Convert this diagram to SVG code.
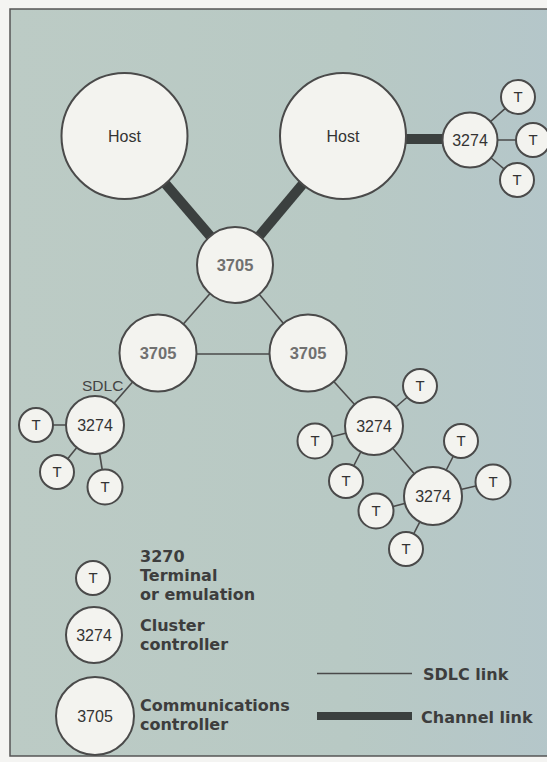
<svg xmlns="http://www.w3.org/2000/svg" width="547" height="762" viewBox="0 0 547 762">
<defs>
<linearGradient id="bg" x1="0" y1="0" x2="1" y2="0">
<stop offset="0" stop-color="#bccbc5"/>
<stop offset="0.6" stop-color="#b8c9c4"/>
<stop offset="1" stop-color="#b4c6ca"/>
</linearGradient>
<style>
.node{fill:#f3f3ef;stroke:#4a4a4a;stroke-width:2}
.sdlc{stroke:#4a4a4a;stroke-width:1.6;fill:none}
.chan{stroke:#3b403f;stroke-width:10;fill:none}
.lbl{font-family:"Liberation Sans",Arial,sans-serif;font-size:16px;fill:#333;text-anchor:middle}
.t{font-family:"Liberation Sans",Arial,sans-serif;font-size:15px;fill:#333;text-anchor:middle}
.cc{font-family:"Liberation Sans",Arial,sans-serif;font-size:16.5px;font-weight:bold;fill:#707070;text-anchor:middle}
.leg{font-family:"DejaVu Sans","Liberation Sans",sans-serif;font-size:16px;font-weight:bold;fill:#3d3d3d}
.sd{font-family:"Liberation Sans",Arial,sans-serif;font-size:15.5px;fill:#444}
</style>
</defs>
<rect x="0" y="0" width="547" height="762" fill="#f4f4f2"/>
<rect x="10" y="9" width="560" height="747" fill="url(#bg)" stroke="#555" stroke-width="1.5"/>

<g id="connectors">
<line class="chan" x1="124.5" y1="136" x2="235" y2="265"/>
<line class="chan" x1="343" y1="136" x2="235" y2="265"/>
<line class="chan" x1="343" y1="139" x2="470" y2="139"/>
<line class="sdlc" x1="470" y1="140" x2="518" y2="97"/>
<line class="sdlc" x1="470" y1="140" x2="533" y2="140"/>
<line class="sdlc" x1="470" y1="140" x2="517" y2="180"/>
<line class="sdlc" x1="235" y1="265" x2="158" y2="353"/>
<line class="sdlc" x1="235" y1="265" x2="308" y2="353"/>
<line class="sdlc" x1="158" y1="354" x2="308" y2="354"/>
<line class="sdlc" x1="158" y1="353" x2="95" y2="425"/>
<line class="sdlc" x1="95" y1="425" x2="36" y2="425"/>
<line class="sdlc" x1="95" y1="425" x2="57" y2="472"/>
<line class="sdlc" x1="95" y1="425" x2="105" y2="487"/>
<line class="sdlc" x1="308" y1="353" x2="374" y2="426"/>
<line class="sdlc" x1="374" y1="426" x2="420" y2="386"/>
<line class="sdlc" x1="374" y1="426" x2="315" y2="441"/>
<line class="sdlc" x1="374" y1="426" x2="346" y2="481"/>
<line class="sdlc" x1="374" y1="426" x2="433" y2="496"/>
<line class="sdlc" x1="433" y1="496" x2="461" y2="441"/>
<line class="sdlc" x1="433" y1="496" x2="493" y2="482"/>
<line class="sdlc" x1="433" y1="496" x2="376" y2="511"/>
<line class="sdlc" x1="433" y1="496" x2="406" y2="549"/>
</g>

<g id="host-left"><circle class="node" cx="124.5" cy="136" r="63"/><text class="lbl" x="124.5" y="141.5">Host</text></g>
<g id="host-right"><circle class="node" cx="343" cy="136" r="63"/><text class="lbl" x="343" y="141.5">Host</text></g>

<g id="cc-3274-top"><circle class="node" cx="470" cy="140" r="27.5"/><text class="lbl" x="470" y="145.5">3274</text></g>
<g id="t-top-1"><circle class="node" cx="518" cy="97" r="17"/><text class="t" x="518" y="102.4">T</text></g>
<g id="t-top-2"><circle class="node" cx="533" cy="140" r="17"/><text class="t" x="533" y="145.4">T</text></g>
<g id="t-top-3"><circle class="node" cx="517" cy="180" r="17"/><text class="t" x="517" y="185.4">T</text></g>

<g id="fep-top"><circle class="node" cx="235" cy="265" r="38"/><text class="cc" x="235" y="271">3705</text></g>
<g id="fep-left"><circle class="node" cx="158" cy="353" r="38.5"/><text class="cc" x="158" y="359">3705</text></g>
<g id="fep-right"><circle class="node" cx="308" cy="353" r="38.5"/><text class="cc" x="308" y="359">3705</text></g>

<g id="sdlc-label"><text class="sd" x="82" y="391">SDLC</text></g>

<g id="cc-3274-left"><circle class="node" cx="95" cy="425" r="29"/><text class="lbl" x="95" y="430.5">3274</text></g>
<g id="t-left-1"><circle class="node" cx="36" cy="425" r="17"/><text class="t" x="36" y="430.4">T</text></g>
<g id="t-left-2"><circle class="node" cx="57" cy="472" r="17"/><text class="t" x="57" y="477.4">T</text></g>
<g id="t-left-3"><circle class="node" cx="105" cy="487" r="17.5"/><text class="t" x="105" y="492.4">T</text></g>

<g id="cc-3274-r1"><circle class="node" cx="374" cy="426" r="29"/><text class="lbl" x="374" y="431.5">3274</text></g>
<g id="t-r1-1"><circle class="node" cx="420" cy="386" r="17"/><text class="t" x="420" y="391.4">T</text></g>
<g id="t-r1-2"><circle class="node" cx="315" cy="441" r="17.5"/><text class="t" x="315" y="446.4">T</text></g>
<g id="t-r1-3"><circle class="node" cx="346" cy="481" r="17"/><text class="t" x="346" y="486.4">T</text></g>

<g id="cc-3274-r2"><circle class="node" cx="433" cy="496" r="29"/><text class="lbl" x="433" y="501.5">3274</text></g>
<g id="t-r2-1"><circle class="node" cx="461" cy="441" r="17"/><text class="t" x="461" y="446.4">T</text></g>
<g id="t-r2-2"><circle class="node" cx="493" cy="482" r="17.5"/><text class="t" x="493" y="487.4">T</text></g>
<g id="t-r2-3"><circle class="node" cx="376" cy="511" r="17.5"/><text class="t" x="376" y="516.4">T</text></g>
<g id="t-r2-4"><circle class="node" cx="406" cy="549" r="17"/><text class="t" x="406" y="554.4">T</text></g>

<g id="legend-terminal">
<circle class="node" cx="93" cy="578" r="17"/><text class="t" x="93" y="583.4">T</text>
<text class="leg" x="140" y="562">3270</text>
<text class="leg" x="140" y="581">Terminal</text>
<text class="leg" x="140" y="600">or emulation</text>
</g>
<g id="legend-cluster">
<circle class="node" cx="94" cy="635" r="28"/><text class="lbl" x="94" y="640.5">3274</text>
<text class="leg" x="140" y="631">Cluster</text>
<text class="leg" x="140" y="650">controller</text>
</g>
<g id="legend-comm">
<circle class="node" cx="95" cy="716" r="39"/><text class="lbl" x="95" y="721.5">3705</text>
<text class="leg" x="140" y="711">Communications</text>
<text class="leg" x="140" y="730">controller</text>
</g>
<g id="legend-links">
<line class="sdlc" x1="317" y1="673.5" x2="412" y2="673.5"/>
<text class="leg" x="423" y="680">SDLC link</text>
<line stroke="#3b403f" stroke-width="8" x1="317" y1="716" x2="412" y2="716"/>
<text class="leg" x="421" y="723">Channel link</text>
</g>
</svg>
